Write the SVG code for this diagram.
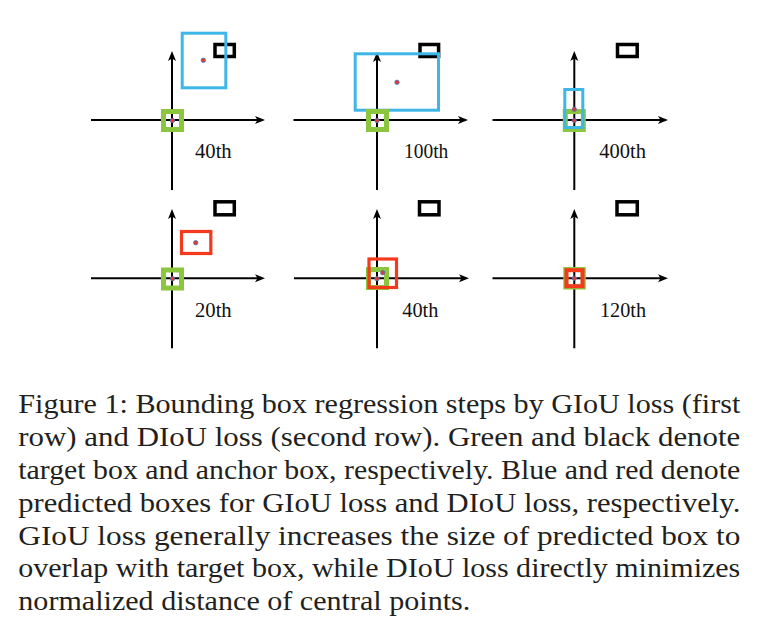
<svg xmlns="http://www.w3.org/2000/svg" width="783" height="623" viewBox="0 0 783 623">
<defs>
<marker id="arr" markerUnits="userSpaceOnUse" markerWidth="12" markerHeight="10" refX="6" refY="4" orient="auto" viewBox="0 0 12 10">
<path d="M0,0 L10,4 L0,8 L2.5,4 Z" fill="#000"/>
</marker>
<style>
.ax{stroke:#000;stroke-width:2;fill:none;marker-end:url(#arr)}
.blk{stroke:#000;stroke-width:3.5;fill:none}
.blu{stroke:#3fb6e8;stroke-width:3;fill:none}
.grn{stroke:#8cc63f;stroke-width:5;fill:none}
.red{stroke:#f5391d;stroke-width:3.2;fill:none}
.red4{stroke:#f5391d;stroke-width:4;fill:none}
.dot{fill:#e8392c;stroke:#3f78c6;stroke-width:0.8}
.lbl{font-family:"Liberation Serif","Times New Roman",serif;font-size:20px;fill:#111}
.cap{font-family:"Liberation Serif","Times New Roman",serif;font-size:28px;fill:#231f20}
</style>
</defs>
<rect width="783" height="623" fill="#fff"/>

<g id="connectors">
<line class="ax" x1="91" y1="120" x2="261" y2="120"/>
<line class="ax" x1="172" y1="190" x2="172" y2="55"/>
<line class="ax" x1="293.5" y1="120" x2="464" y2="120"/>
<line class="ax" x1="377" y1="190" x2="377" y2="56"/>
<line class="ax" x1="492.5" y1="120" x2="664" y2="120"/>
<line class="ax" x1="574.3" y1="190" x2="574.3" y2="55"/>
<line class="ax" x1="91" y1="278.3" x2="261" y2="278.3"/>
<line class="ax" x1="172" y1="348.3" x2="172" y2="213"/>
<line class="ax" x1="294" y1="278.3" x2="465" y2="278.3"/>
<line class="ax" x1="377" y1="348.3" x2="377" y2="213"/>
<line class="ax" x1="492.5" y1="278.3" x2="664" y2="278.3"/>
<line class="ax" x1="574.3" y1="348.3" x2="574.3" y2="213"/>
</g>

<g id="panel-giou-40">
<rect class="blk" x="215" y="44.5" width="19.3" height="12"/>
<rect class="blu" x="182.2" y="33.2" width="43.6" height="54.6"/>
<circle class="dot" cx="203.3" cy="60.3" r="2.2"/>
<rect class="grn" x="163.5" y="111.5" width="18" height="18"/>
<circle class="dot" cx="172.5" cy="120.5" r="2.2"/>
<text class="lbl" x="195" y="158" textLength="36.7" lengthAdjust="spacingAndGlyphs">40th</text>
</g>

<g id="panel-giou-100">
<rect class="blk" x="420" y="44.5" width="18.6" height="12"/>
<rect class="blu" x="355.2" y="53.8" width="83.3" height="56.4"/>
<circle class="dot" cx="397" cy="82.3" r="2.2"/>
<rect class="grn" x="368.5" y="111.5" width="18" height="18"/>
<circle class="dot" cx="377" cy="120.5" r="2.2"/>
<text class="lbl" x="404" y="158" textLength="44.3" lengthAdjust="spacingAndGlyphs">100th</text>
</g>

<g id="panel-giou-400">
<rect class="blk" x="617.5" y="44.5" width="19.7" height="12"/>
<rect class="grn" x="565.3" y="111.5" width="18" height="18"/>
<rect class="blu" x="564.8" y="89.5" width="18" height="38"/>
<circle class="dot" cx="574.3" cy="109.3" r="2.2"/>
<circle class="dot" cx="574.3" cy="120.5" r="2.2"/>
<text class="lbl" x="599.3" y="158" textLength="46.7" lengthAdjust="spacingAndGlyphs">400th</text>
</g>

<g id="panel-diou-20">
<rect class="blk" x="215" y="201.8" width="19.3" height="13"/>
<rect class="red" x="181.5" y="231.5" width="29.3" height="22"/>
<circle class="dot" cx="195.7" cy="242.7" r="2.2"/>
<rect class="grn" x="163.5" y="270" width="18" height="18"/>
<circle class="dot" cx="172.5" cy="278.7" r="2.2"/>
<text class="lbl" x="195" y="317.3" textLength="36.7" lengthAdjust="spacingAndGlyphs">20th</text>
</g>

<g id="panel-diou-40">
<rect class="blk" x="419.5" y="201.8" width="19.5" height="13"/>
<rect class="grn" x="368.5" y="269.5" width="18" height="18"/>
<rect class="red" x="369" y="259" width="27.5" height="28.5"/>
<circle class="dot" cx="382.7" cy="272.7" r="2.2"/>
<circle class="dot" cx="377" cy="278.7" r="2.2"/>
<text class="lbl" x="402.3" y="317.3" textLength="36" lengthAdjust="spacingAndGlyphs">40th</text>
</g>

<g id="panel-diou-120">
<rect class="blk" x="617" y="201.8" width="20.3" height="13"/>
<rect class="grn" x="565.8" y="269.5" width="17.5" height="17.5"/>
<rect class="red4" x="566.5" y="270.2" width="16" height="16"/>
<circle class="dot" cx="574.3" cy="278.3" r="2.2"/>
<text class="lbl" x="600" y="317.3" textLength="46" lengthAdjust="spacingAndGlyphs">120th</text>
</g>

<g id="caption">
<text class="cap" x="18.3" y="413.3" textLength="722" lengthAdjust="spacingAndGlyphs">Figure 1: Bounding box regression steps by GIoU loss (first</text>
<text class="cap" x="18.3" y="445.8" textLength="722" lengthAdjust="spacingAndGlyphs">row) and DIoU loss (second row). Green and black denote</text>
<text class="cap" x="18.3" y="478.6" textLength="722" lengthAdjust="spacingAndGlyphs">target box and anchor box, respectively. Blue and red denote</text>
<text class="cap" x="18.3" y="511.5" textLength="722" lengthAdjust="spacingAndGlyphs">predicted boxes for GIoU loss and DIoU loss, respectively.</text>
<text class="cap" x="18.3" y="544.5" textLength="722" lengthAdjust="spacingAndGlyphs">GIoU loss generally increases the size of predicted box to</text>
<text class="cap" x="18.3" y="577.3" textLength="722" lengthAdjust="spacingAndGlyphs">overlap with target box, while DIoU loss directly minimizes</text>
<text class="cap" x="18.3" y="610" textLength="452" lengthAdjust="spacingAndGlyphs">normalized distance of central points.</text>
</g>
</svg>
